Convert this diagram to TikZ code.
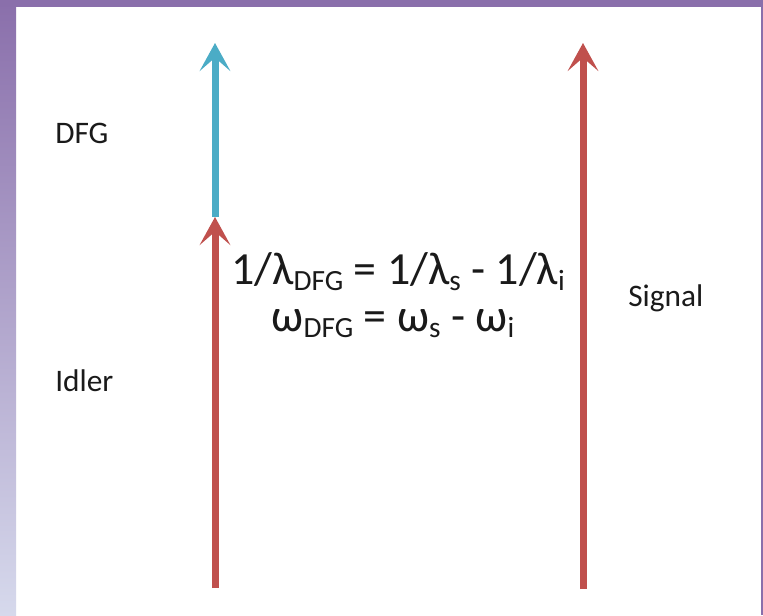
\documentclass[tikz,border=0pt]{standalone}
\usepackage{fontspec}
\setmainfont{Carlito}
\usepackage{tikz}
\usetikzlibrary{arrows.meta,positioning}

\definecolor{framepurple}{HTML}{8A6FAB}
\definecolor{framelav}{HTML}{D6D9EC}
\definecolor{beamred}{HTML}{C0504D}
\definecolor{beamblue}{HTML}{4BACC6}
\definecolor{txt}{HTML}{1A1A1A}

% subscript in the Office manner: smaller and lowered
\newcommand{\lowidx}[1]{\raisebox{-5pt}{\fontsize{22}{22}\selectfont #1}}

\begin{document}
\begin{tikzpicture}[
    x=0.75pt, y=-0.75pt,
    lbl/.style={text=txt, font=\fontsize{23.5}{27}\selectfont, inner sep=0pt},
    eq/.style={text=txt, font=\fontsize{34.5}{40}\selectfont, inner sep=0pt},
    beam/.style={line width=5.25pt, -{Stealth[length=21pt, width=23pt, inset=10pt]}}
]
\useasboundingbox (0,0) rectangle (763,615);
% frame
\fill[white] (0,0) rectangle (763,615);
\shade[top color=framepurple, bottom color=framelav] (0,0) rectangle (16,615);
\fill[framepurple] (0,0) rectangle (763,7);
\fill[framepurple] (761,0) rectangle (763,615);

% beam end points
\coordinate (idlerbot) at (215,588);
\coordinate (idlertip) at (215,217);
\coordinate (dfgtip) at (215,43);
\coordinate (sigbot) at (583,589);
\coordinate (sigtip) at (583,43);

\draw[beam, beamblue] (idlertip) -- (dfgtip);
\draw[beam, beamred] (idlerbot) -- (idlertip);
\draw[beam, beamred] (sigbot) -- (sigtip);

% labels
\node[lbl, anchor=base west] (lbldfg) at (55,143) {DFG};
\node[lbl, anchor=base west] (lblidler) at (55,391) {Idler};
\node[lbl, anchor=base west] (lblsignal) at (628,306) {Signal};

% relations
\node[eq, anchor=base] (eqlam) at (398,284) {1/λ\lowidx{DFG} = 1/λ\lowidx{s} - 1/λ\lowidx{i}};
\node[eq, anchor=base] (eqomega) at (393,331) {ω\lowidx{DFG} = ω\lowidx{s} - ω\lowidx{i}};
\end{tikzpicture}
\end{document}
